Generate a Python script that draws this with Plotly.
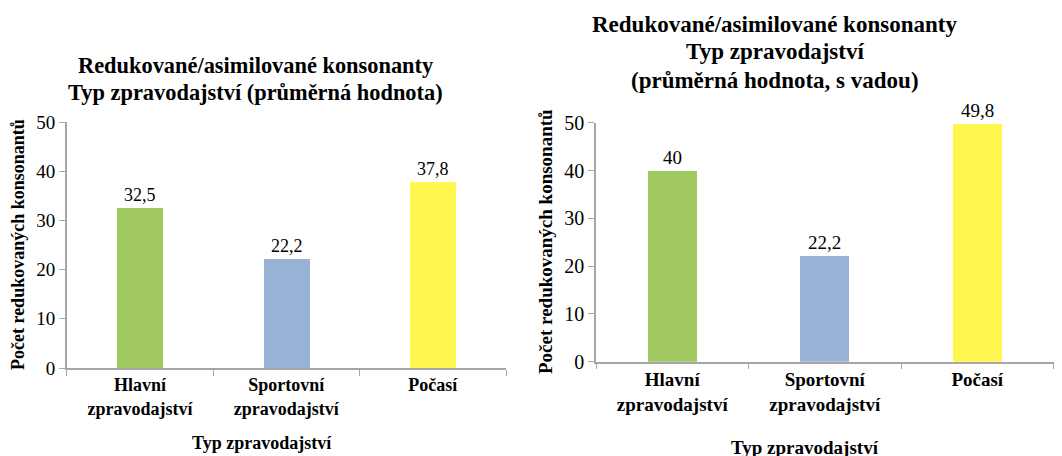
import plotly.graph_objects as go

# ── Data ────────────────────────────────────────────────────────────────
categories = ["Hlavní<br>zpravodajství", "Sportovní<br>zpravodajství", "Počasí"]
values_avg = [32.5, 22.2, 37.8]
values_defect = [40, 22.2, 49.8]
labels_avg = ["32,5", "22,2", "37,8"]
labels_defect = ["40", "22,2", "49,8"]
y_ticks = [0, 10, 20, 30, 40, 50]

title_left = ["Redukované/asimilované konsonanty", "Typ zpravodajství (průměrná hodnota)"]
title_right = ["Redukované/asimilované konsonanty", "Typ zpravodajství",
               "(průměrná hodnota, s vadou)"]
y_title = "Počet redukovaných konsonantů"
x_title = "Typ zpravodajství"

BAR_COLORS = ["#9FC95F", "#98B2D5", "#FFF650"]
AXIS_GREY = "#A6A6A6"
FONT = "Liberation Serif"
W, H = 1062, 456
OFF = 8  # page body margin shifts the figure


def fx(p):
    return (p - OFF) / W


def fy(p):
    return 1 - (p - OFF) / H


fig = go.Figure()

fig.add_trace(go.Bar(
    x=categories, y=values_avg, text=labels_avg, textposition="outside",
    textfont=dict(size=18, color="black", family=FONT),
    marker=dict(color=BAR_COLORS, line=dict(width=0)),
    width=0.315, xaxis="x", yaxis="y", cliponaxis=False, showlegend=False,
))
fig.add_trace(go.Bar(
    x=categories, y=values_defect, text=labels_defect, textposition="outside",
    textfont=dict(size=19, color="black", family=FONT),
    marker=dict(color=BAR_COLORS, line=dict(width=0)),
    width=0.32, xaxis="x2", yaxis="y2", cliponaxis=False, showlegend=False,
))


def x_axis(domain, anchor, size):
    return dict(
        domain=domain, anchor=anchor, type="category", automargin=False,
        showline=True, linecolor=AXIS_GREY, linewidth=1.5,
        ticks="outside", tickson="boundaries", ticklen=6, tickcolor=AXIS_GREY,
        tickfont=dict(size=size, color="black", family=FONT, weight="bold"),
        showgrid=False, zeroline=False, fixedrange=True,
    )


def y_axis(domain, anchor, size):
    return dict(
        domain=domain, anchor=anchor, range=[0, 50], tickvals=y_ticks,
        automargin=False,
        showline=True, linecolor=AXIS_GREY, linewidth=1.5,
        ticks="outside", ticklen=6, tickcolor=AXIS_GREY,
        tickfont=dict(size=size, color="black", family=FONT),
        showgrid=False, zeroline=False, fixedrange=True,
    )


fig.update_layout(
    width=W, height=H,
    margin=dict(l=0, r=0, t=0, b=0),
    paper_bgcolor="white", plot_bgcolor="white",
    font=dict(family=FONT, color="black"),
    bargap=0.0,
    xaxis=x_axis([fx(66.7), fx(506)], "y", 18),
    yaxis=y_axis([fy(368), fy(122)], "x", 19),
    xaxis2=x_axis([fx(596), fx(1053.5)], "y2", 19),
    yaxis2=y_axis([fy(361.7), fy(122.7)], "x2", 20),
)

# titles and axis titles as annotations (paper coordinates)
ann = dict(xref="paper", yref="paper", showarrow=False,
           xanchor="center", yanchor="middle")
for line, yc in zip(title_left, [65, 92]):
    fig.add_annotation(**ann, text=f"<b>{line}</b>", x=fx(255), y=fy(yc),
                       font=dict(family=FONT, color="black", size=22.4))
for line, yc in zip(title_right, [25, 52, 80]):
    fig.add_annotation(**ann, text=f"<b>{line}</b>", x=fx(774.5), y=fy(yc),
                       font=dict(family=FONT, color="black", size=23))
fig.add_annotation(**ann, text=f"<b>{y_title}</b>", x=fx(18), y=fy(245),
                   textangle=-90, font=dict(family=FONT, color="black", size=18))
fig.add_annotation(**ann, text=f"<b>{y_title}</b>", x=fx(545), y=fy(242),
                   textangle=-90, font=dict(family=FONT, color="black", size=19))
fig.add_annotation(**ann, text=f"<b>{x_title}</b>", x=fx(262), y=fy(443),
                   font=dict(family=FONT, color="black", size=18))
fig.add_annotation(**ann, text=f"<b>{x_title}</b>", x=fx(805), y=fy(447),
                   font=dict(family=FONT, color="black", size=19))

fig.write_html("out.html")
